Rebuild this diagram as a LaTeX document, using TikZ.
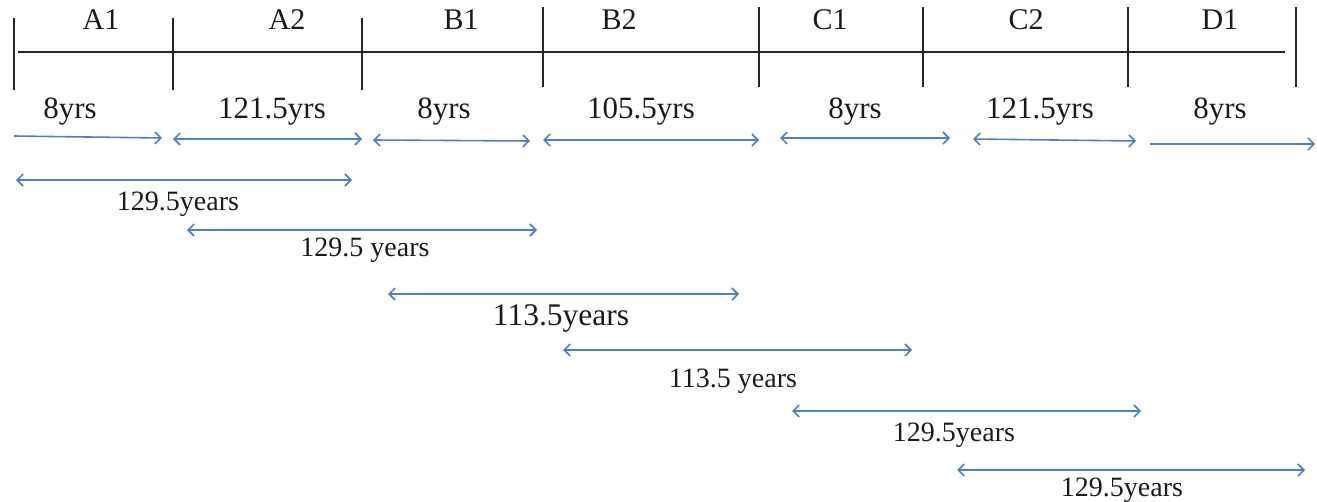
\documentclass[tikz,border=0pt]{standalone}
\usepackage{fontspec}
\setmainfont{Liberation Serif}
\usetikzlibrary{arrows.meta}
\definecolor{arrblue}{HTML}{4F81BD}
\definecolor{txt}{HTML}{1A1A1A}
\begin{document}
\begin{tikzpicture}[x=1pt,y=-1pt,
  tick/.style={draw=black!85,line width=1.6pt},
  axis/.style={draw=black!85,line width=1.6pt},
  span/.style={draw=arrblue,line width=1.6pt,{Straight Barb[length=6pt,width=12pt,line width=1.6pt]}-{Straight Barb[length=6pt,width=12pt,line width=1.6pt]}},
  rspan/.style={draw=arrblue,line width=1.6pt,-{Straight Barb[length=6pt,width=12pt,line width=1.6pt]}},
  seg/.style={inner sep=0pt,text=txt,font=\fontsize{30}{34}\selectfont},
  dur/.style={inner sep=0pt,text=txt,font=\fontsize{31}{35}\selectfont},
  lab/.style={inner sep=0pt,text=txt,font=\fontsize{28}{32}\selectfont},
  big/.style={inner sep=0pt,text=txt,font=\fontsize{31.5}{35}\selectfont}]
\useasboundingbox (0,0) rectangle (1317,501);
% axis
\coordinate (L) at (18,52);
\coordinate (R) at (1285,52);
\draw[axis] (L) -- (R);
% ticks
\foreach \n/\x/\a/\b in {t0/14/18/90,t1/173/18/90,t2/362/18/90,t3/543/7/87,t4/759/7/87,t5/923/7/87,t6/1128/7/87,t7/1296/7/87}{
  \coordinate (\n a) at (\x,\a);
  \coordinate (\n b) at (\x,\b);
  \draw[tick] (\n a) -- (\n b);
}
% segment names
\node[seg] (A1) at (101,20) {A1};
\node[seg] (A2) at (287,20) {A2};
\node[seg] (B1) at (461,20) {B1};
\node[seg] (B2) at (619,20) {B2};
\node[seg] (C1) at (830,20) {C1};
\node[seg] (C2) at (1026,20) {C2};
\node[seg] (D1) at (1220,20) {D1};
% durations
\node[dur] (d1) at (70,112) {8yrs};
\node[dur] (d2) at (272,112) {121.5yrs};
\node[dur] (d3) at (444,112) {8yrs};
\node[dur] (d4) at (641,112) {105.5yrs};
\node[dur] (d5) at (855,112) {8yrs};
\node[dur] (d6) at (1040,112) {121.5yrs};
\node[dur] (d7) at (1220,112) {8yrs};
% short arrows
\coordinate (s1a) at (14,136);   \coordinate (s1b) at (162,138);
\coordinate (s2a) at (173,139);  \coordinate (s2b) at (362,139);
\coordinate (s3a) at (373,140);  \coordinate (s3b) at (530,141);
\coordinate (s4a) at (543,140);  \coordinate (s4b) at (759,140);
\coordinate (s5a) at (780,138);  \coordinate (s5b) at (950,138);
\coordinate (s6a) at (973,139);  \coordinate (s6b) at (1136,141);
\coordinate (s7a) at (1150,144); \coordinate (s7b) at (1315,144);
\draw[rspan] (s1a) -- (s1b);
\draw[span] (s2a) -- (s2b);
\draw[span] (s3a) -- (s3b);
\draw[span] (s4a) -- (s4b);
\draw[span] (s5a) -- (s5b);
\draw[span] (s6a) -- (s6b);
\draw[rspan] (s7a) -- (s7b);
% long arrows
\coordinate (l1a) at (16,180);  \coordinate (l1b) at (352,180);
\coordinate (l2a) at (187,230); \coordinate (l2b) at (537,230);
\coordinate (l3a) at (388,294); \coordinate (l3b) at (739,294);
\coordinate (l4a) at (563,350); \coordinate (l4b) at (912,350);
\coordinate (l5a) at (792,411); \coordinate (l5b) at (1141,411);
\coordinate (l6a) at (957,470); \coordinate (l6b) at (1305,470);
\draw[span] (l1a) -- (l1b);
\draw[span] (l2a) -- (l2b);
\draw[span] (l3a) -- (l3b);
\draw[span] (l4a) -- (l4b);
\draw[span] (l5a) -- (l5b);
\draw[span] (l6a) -- (l6b);
\node[lab] (y1) at (178,204) {129.5years};
\node[lab] (y2) at (365,250) {129.5 years};
\node[big] (y3) at (561,318) {113.5years};
\node[lab] (y4) at (733,381) {113.5 years};
\node[lab] (y5) at (954,435) {129.5years};
\node[lab] (y6) at (1122,490) {129.5years};
\end{tikzpicture}
\end{document}
